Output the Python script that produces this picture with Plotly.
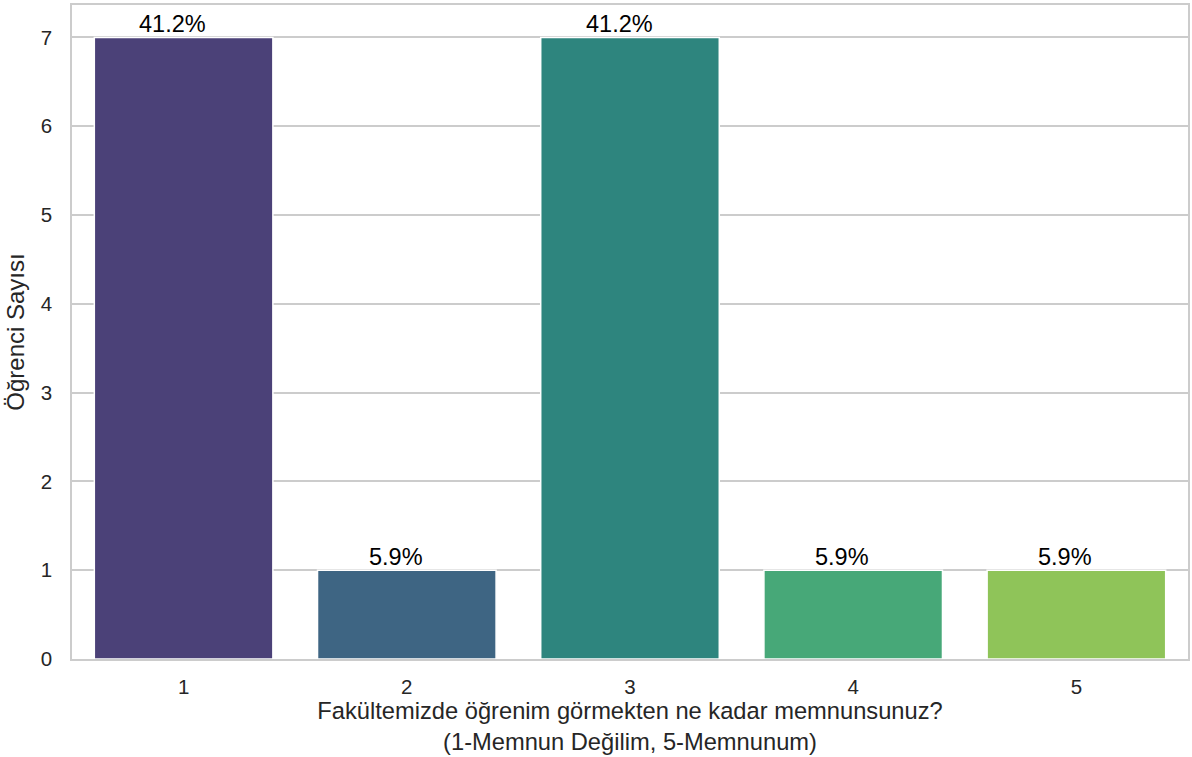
import plotly.graph_objects as go

categories = ["1", "2", "3", "4", "5"]
counts = [7, 1, 7, 1, 1]
percent_labels = ["41.2%", "5.9%", "41.2%", "5.9%", "5.9%"]
bar_colors = ["#4b4178", "#3e6583", "#2e857e", "#47a878", "#8fc459"]
y_ticks = [0, 1, 2, 3, 4, 5, 6, 7]

FONT = "Liberation Sans, Arial, sans-serif"

fig = go.Figure()
fig.add_trace(go.Bar(
    x=categories,
    y=counts,
    marker=dict(color=bar_colors, line=dict(color="white", width=1.5)),
    width=0.8,
    showlegend=False,
))

# annotations on a category axis use the category index as position
for idx, (val, label) in enumerate(zip(counts, percent_labels)):
    fig.add_annotation(
        x=idx, y=val, text=label,
        showarrow=False, yanchor="bottom", yshift=-2, xshift=-11,
        font=dict(family=FONT, size=23.5, color="black"),
    )

fig.update_layout(
    width=1192,
    height=757,
    margin=dict(l=72, r=4, t=5, b=98, autoexpand=False),
    plot_bgcolor="white",
    paper_bgcolor="white",
    font=dict(family=FONT, color="#262626"),
)
fig.update_xaxes(
    type="category",
    range=[-0.5, 4.5],
    showgrid=False,
    showline=True,
    linecolor="#cccccc",
    linewidth=1.5,
    mirror=True,
    tickfont=dict(family=FONT, size=20.5, color="#262626"),
    ticklabelstandoff=9,
    title=dict(
        text="Fakültemizde öğrenim görmekten ne kadar memnunsunuz?<br>(1-Memnun Değilim, 5-Memnunum)",
        font=dict(family=FONT, size=23.7, color="#262626"),
        standoff=5,
    ),
)
fig.update_yaxes(
    range=[0, 7.365],
    tickvals=y_ticks,
    showgrid=True,
    gridcolor="#cccccc",
    gridwidth=1.5,
    zeroline=False,
    showline=True,
    linecolor="#cccccc",
    linewidth=1.5,
    mirror=True,
    tickfont=dict(family=FONT, size=20.5, color="#262626"),
    ticklabelstandoff=14,
    title=dict(
        text="Öğrenci Sayısı",
        font=dict(family=FONT, size=24, color="#262626"),
        standoff=9,
    ),
)

fig.write_html(
    "out.html",
    config={"displayModeBar": False},
    post_script="document.body.style.margin='0';document.body.style.overflow='hidden';",
)
